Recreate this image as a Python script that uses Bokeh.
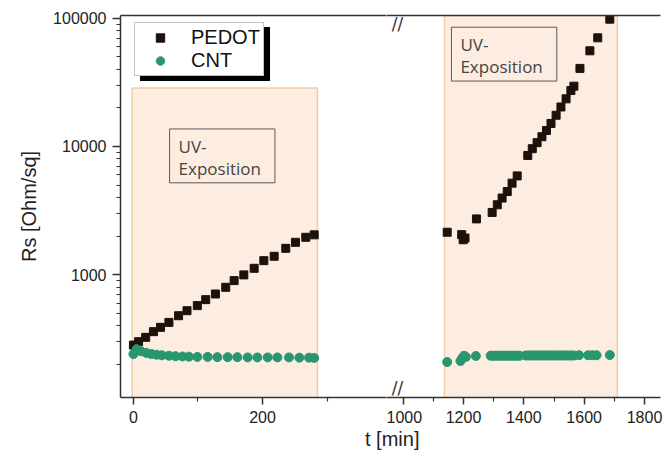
from bokeh.plotting import figure
from bokeh.models import (Range1d, FixedTicker, LinearAxis, Legend, LegendItem, Label, Div,
                          BasicTickFormatter)
from bokeh.layouts import row, column
from bokeh.embed import file_html
from bokeh.resources import INLINE

# ---------------- data ----------------
pedot_t1 = [0, 8, 19, 31, 42, 55, 70, 83, 99, 112, 127, 143, 156, 171, 187, 202, 218, 236, 251, 267, 280]
pedot_r1 = [282, 300, 324, 359, 388, 424, 478, 523, 573, 638, 706, 796, 898, 995, 1120, 1285, 1390, 1603,
            1786, 1955, 2043]
cnt_t1 = [0, 5, 12, 20, 28, 36, 44, 55, 65, 76, 86, 99, 115, 130, 146, 161, 177, 192, 208, 223, 241,
          257, 272, 280]
cnt_r1 = [240, 262, 252, 245, 240, 237, 235, 233, 231, 230, 229, 228, 228, 227, 227, 227, 226, 226, 226,
          226, 226, 225, 225, 224]

pedot_t2 = [1146, 1194, 1199, 1205, 1243, 1295, 1312, 1328, 1345, 1361, 1378, 1413, 1428, 1444, 1460,
            1475, 1490, 1507, 1523, 1540, 1556, 1566, 1586, 1619, 1645, 1685]
pedot_r2 = [2140, 2050, 1870, 1930, 2720, 3055, 3505, 3956, 4450, 5170, 5890, 8500, 9600, 10700, 11900,
            13300, 15100, 17500, 20300, 23500, 27300, 29500, 40600, 55700, 70300, 98300]
cnt_t2 = [1146, 1190, 1196, 1202, 1208, 1241, 1290, 1298, 1306, 1314, 1322, 1330, 1338, 1346, 1354, 1362,
          1370, 1378, 1386, 1406, 1414, 1422, 1430, 1438, 1446, 1454, 1462, 1470, 1478, 1486, 1494, 1502,
          1510, 1518, 1526, 1534, 1542, 1550, 1558, 1566, 1583, 1613, 1627, 1641, 1685]
cnt_r2 = [208, 212, 224, 233, 228, 232, 233, 233, 233, 233, 233, 233, 233, 233, 233, 233, 233, 233, 233,
          234, 234, 234, 234, 234, 234, 234, 234, 234, 234, 234, 234, 234, 234, 234, 234, 234, 234, 234,
          234, 234, 235, 235, 235, 235, 236]

uv_start = [-2, 1137]
uv_end = [285, 1710]
uv_top = [28500, 105000]

y_ticks = [1000, 10000, 100000]
y_minor = [m * d for d in (100, 1000, 10000) for m in range(2, 10)]
x_ticks_left = [0, 200]
x_minor_left = [100, 300]
x_ticks_right = [1000, 1200, 1400, 1600, 1800]
x_minor_right = [1100, 1300, 1500, 1700]
BREAK_AT = 981                         # where the axis-break marks sit on the right panel's scale

# ---------------- style ----------------
SQ = "#1c120b"
CI = "#2a9670"
FILL = "#fdede1"
EDGE = "#f3cba6"
AX = "#333333"
FONT = "Liberation Sans"

Y_MIN, Y_MAX = 110, 105000
yr = Range1d(Y_MIN, Y_MAX)
X1 = (-20, 392)
X2 = (944.8, 1853)


def style_axis(ax, ticks, minor):
    ax.ticker = FixedTicker(ticks=ticks, minor_ticks=minor)
    ax.axis_line_color = AX
    ax.axis_line_width = 1.5
    ax.major_tick_line_color = AX
    ax.major_tick_line_width = 1.5
    ax.minor_tick_line_color = AX
    ax.minor_tick_line_width = 1.2
    ax.major_tick_in = 0
    ax.major_tick_out = 7
    ax.minor_tick_in = 0
    ax.minor_tick_out = 4
    ax.major_label_text_font = FONT
    ax.major_label_text_font_size = "16px"
    ax.major_label_text_color = "#222222"
    ax.major_label_standoff = 6


def top_line(p):
    ax = LinearAxis(ticker=FixedTicker(ticks=[]), axis_line_color=AX, axis_line_width=1.5,
                    major_tick_out=0, major_tick_in=0, minor_tick_out=0, minor_tick_in=0,
                    major_label_text_font_size="0px", major_label_standoff=0)
    p.add_layout(ax, "above")


p1 = figure(width=386, height=427, x_range=Range1d(*X1), y_range=yr, y_axis_type="log",
            output_backend="svg", toolbar_location=None, min_border_left=120, min_border_right=0,
            min_border_top=15, min_border_bottom=30, outline_line_color=None,
            background_fill_color="white", border_fill_color="white")
p2 = figure(width=278, height=427, x_range=Range1d(*X2), y_range=yr, y_axis_type="log",
            y_axis_location=None,
            output_backend="svg", toolbar_location=None, min_border_left=0, min_border_right=4,
            min_border_top=15, min_border_bottom=30, outline_line_color=None,
            background_fill_color="white", border_fill_color="white")

style_axis(p1.below[0], x_ticks_left, x_minor_left)
style_axis(p2.below[0], x_ticks_right, x_minor_right)
yax = p1.left[0]
style_axis(yax, y_ticks, y_minor)
yax.formatter = BasicTickFormatter(use_scientific=False)
yax.major_tick_out = 8
yax.minor_tick_out = 4
yax.axis_label = "Rs [Ohm/sq]"
yax.axis_label_text_font = FONT
yax.axis_label_text_font_size = "20px"
yax.axis_label_text_font_style = "normal"
yax.axis_label_text_color = "#222222"
yax.axis_label_standoff = 10

for p in (p1, p2):
    p.xgrid.visible = False
    p.ygrid.visible = False
    top_line(p)

# UV exposure regions
p1.quad(left=[uv_start[0]], right=[uv_end[0]], bottom=[1], top=[uv_top[0]],
        fill_color=FILL, line_color=EDGE, line_width=1.5)
p2.quad(left=[uv_start[1]], right=[uv_end[1]], bottom=[1], top=[uv_top[1]],
        fill_color=FILL, line_color=EDGE, line_width=1.5)

# data
rp1 = p1.scatter(pedot_t1, pedot_r1, marker="square", size=8, color=SQ)
rc1 = p1.scatter(cnt_t1, cnt_r1, marker="circle", size=9, color=CI)
p2.scatter(pedot_t2, pedot_r2, marker="square", size=8, color=SQ)
p2.scatter(cnt_t2, cnt_r2, marker="circle", size=9, color=CI)

# legend with drop shadow
dummy = p1.scatter([], [], marker="square", size=1, fill_alpha=0, line_alpha=0)
common = dict(padding=3, spacing=0, label_height=21, glyph_height=21, glyph_width=44,
              label_standoff=9, label_text_font=FONT, label_text_font_size="20px",
              border_line_width=1, margin=0)
shadow = Legend(items=[LegendItem(label="PEDOT", renderers=[dummy]),
                       LegendItem(label="CNT", renderers=[dummy])],
                location=(20, 316), background_fill_color="black", background_fill_alpha=1.0,
                border_line_color="black", label_text_color="black", **common)
legend = Legend(items=[LegendItem(label="PEDOT", renderers=[rp1]),
                       LegendItem(label="CNT", renderers=[rc1])],
                location=(14, 321), background_fill_color="white", background_fill_alpha=1.0,
                border_line_color="#8a8a8a", label_text_color="#111111", **common)
p1.add_layout(shadow)
p1.add_layout(legend)

# UV labels
for p, x, y in ((p1, 56, 13680), (p2, 1160, 85100)):
    p.add_layout(Label(x=x, y=y, text="UV-\nExposition", text_font="Open Sans",
                       text_font_size="17px", text_color="#444444", text_align="left",
                       text_baseline="top", text_line_height=0.95,
                       border_line_color="#5a5a5a", border_line_width=1,
                       background_fill_color=None,
                       padding=dict(left=9, right=14, top=6, bottom=3)))

# axis break marks (kept inside the plotting area so they are not clipped)
p2.add_layout(Label(x=BREAK_AT, y=Y_MAX, text="//", text_align="center", text_baseline="top",
                    y_offset=2, text_font="DejaVu Sans", text_font_size="17px", text_color=AX))
p2.add_layout(Label(x=BREAK_AT, y=Y_MIN, text="//", text_align="center", text_baseline="bottom",
                    text_font="DejaVu Sans", text_font_size="17px", text_color=AX))

xlabel = Div(text="t [min]", width=664, height=26, margin=0,
             styles={"font-family": "Liberation Sans, Arial, sans-serif", "font-size": "20px",
                     "color": "#222222", "padding-left": "365px", "line-height": "24px"})

layout = column(row(p1, p2, spacing=0), xlabel, spacing=0)

open("out.html", "w").write(file_html(layout, INLINE))
